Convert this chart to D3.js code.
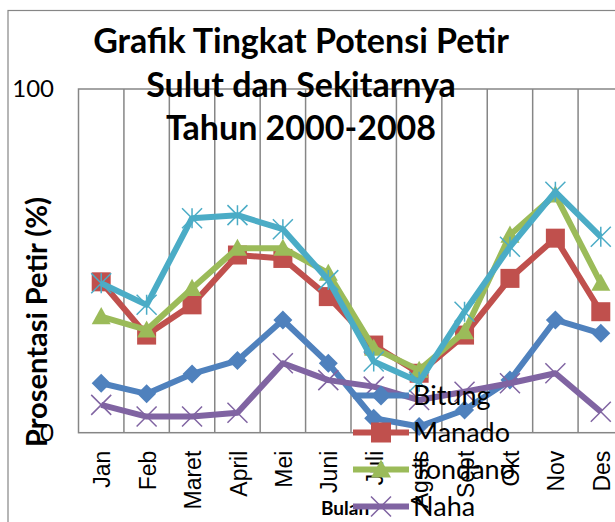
<!DOCTYPE html>
<html>
<head>
<meta charset="utf-8">
<script src="https://cdn.jsdelivr.net/npm/d3@7"></script>
<style>
  html, body { margin: 0; padding: 0; background: #fff; overflow: hidden; }
  svg { display: block; font-family: Lato, "Open Sans", sans-serif; }
</style>
</head>
<body>
<svg id="chart" width="615" height="522"></svg>
<script>
// Grafik Tingkat Potensi Petir — line chart with markers, Excel-style
const months = ['Jan', 'Feb', 'Maret', 'April', 'Mei', 'Juni', 'Juli', 'Agsts', 'Sept', 'Okt', 'Nov', 'Des'];
const bitung  = [14.4, 11.3, 17.1, 21.0, 32.8, 20.2, 4.2, 1.8, 6.6, 15.3, 32.8, 28.9];
const manado  = [43.9, 28.4, 37.2, 51.7, 50.7, 39.6, 25.5, 17.3, 28.4, 44.9, 56.6, 35.2];
const tondano = [33.8, 29.9, 42.0, 53.7, 53.7, 46.4, 24.6, 18.2, 29.4, 57.5, 69.2, 43.5];
const naha    = [8.1, 4.7, 4.7, 5.8, 20.2, 15.3, 13.4, 9.5, 11.9, 14.4, 17.3, 6.1];
const seri5   = [43.5, 37.2, 62.4, 63.3, 59.2, 44.4, 20.7, 14.8, 35.2, 54.1, 70.1, 57.0];
const yTicks  = [0, 100];

const series = [
    { name: 'Bitung',  values: bitung,  color: '#4F81BD', marker: 'diamond' },
    { name: 'Manado',  values: manado,  color: '#C0504D', marker: 'square' },
    { name: 'Tondano', values: tondano, color: '#9BBB59', marker: 'triangle' },
    { name: 'Naha',    values: naha,    color: '#8064A2', marker: 'x' },
    { name: 'Seri 5',  values: seri5,   color: '#4BACC6', marker: 'star' }
];

const PLOT = { left: 78.5, top: 89, right: 623.5, bottom: 432.7 };
const svg = d3.select('#chart');

// outer chart border
svg.append('rect')
    .attr('x', 8).attr('y', 10.5).attr('width', 700).attr('height', 600)
    .attr('fill', '#fff').attr('stroke', '#868686').attr('stroke-width', 1.2);

const x = d3.scaleBand().domain(months).range([PLOT.left, PLOT.right]);
const y = d3.scaleLinear().domain([0, 100]).range([PLOT.bottom, PLOT.top]);
const cx = d => x(d) + x.bandwidth() / 2;

// plot area border + vertical gridlines between categories
svg.append('rect')
    .attr('x', PLOT.left).attr('y', y(100))
    .attr('width', PLOT.right - PLOT.left).attr('height', y(0) - y(100))
    .attr('fill', 'none').attr('stroke', '#868686').attr('stroke-width', 1.5);

svg.append('g').selectAll('line')
    .data(months.slice(1))
    .join('line')
    .attr('x1', d => x(d)).attr('x2', d => x(d))
    .attr('y1', y(100)).attr('y2', y(0))
    .attr('stroke', '#868686').attr('stroke-width', 1.5);

// y tick labels
svg.append('g').selectAll('text')
    .data(yTicks)
    .join('text')
    .attr('x', 54).attr('y', d => y(d))
    .attr('dy', '0.35em')
    .attr('text-anchor', 'end')
    .attr('font-size', 24)
    .text(d => d);

// x tick labels (rotated)
svg.append('g').selectAll('text')
    .data(months)
    .join('text')
    .attr('transform', d => `translate(${cx(d) + 1},${y(0) + 18}) rotate(-90)`)
    .attr('dy', '0.35em')
    .attr('text-anchor', 'end')
    .attr('font-family', '"Liberation Sans", Arial, sans-serif')
    .attr('font-size', 23)
    .text(d => d);

// axis titles
svg.append('text')
    .attr('transform', 'translate(47,322) rotate(-90)')
    .attr('text-anchor', 'middle')
    .attr('font-size', 29).attr('font-weight', 'bold')
    .text('Prosentasi Petir (%)');

svg.append('text')
    .attr('x', 321).attr('y', 515)
    .attr('font-size', 19).attr('font-weight', 'bold')
    .text('Bulan');

// markers
function drawMarker(g, type, color, px, py, s) {
    const h = s / 2;
    if (type === 'diamond') {
        g.append('path').attr('d', `M${px},${py - h}L${px + h},${py}L${px},${py + h}L${px - h},${py}Z`).attr('fill', color);
    } else if (type === 'square') {
        g.append('rect').attr('x', px - h).attr('y', py - h).attr('width', s).attr('height', s).attr('fill', color);
    } else if (type === 'triangle') {
        g.append('path').attr('d', `M${px},${py - h}L${px + h},${py + h * 0.8}L${px - h},${py + h * 0.8}Z`).attr('fill', color);
    } else if (type === 'x') {
        g.append('path').attr('d', `M${px - h},${py - h}L${px + h},${py + h}M${px - h},${py + h}L${px + h},${py - h}`)
            .attr('stroke', color).attr('stroke-width', 1.5);
    } else if (type === 'star') {
        g.append('path').attr('d', `M${px - h},${py - h}L${px + h},${py + h}M${px - h},${py + h}L${px + h},${py - h}M${px},${py - h}L${px},${py + h}`)
            .attr('stroke', color).attr('stroke-width', 1.5);
    }
}

const line = d3.line()
    .x((d, i) => cx(months[i]))
    .y(d => y(d));

series.forEach(s => {
    const g = svg.append('g');
    g.append('path')
        .datum(s.values)
        .attr('d', line)
        .attr('fill', 'none')
        .attr('stroke', s.color)
        .attr('stroke-width', 6)
        .attr('stroke-linejoin', 'round');
    s.values.forEach((v, i) => drawMarker(g, s.marker, s.color, cx(months[i]), y(v), s.marker === 'x' || s.marker === 'star' ? 20 : 19));
});

// legend (overlaps plot, as in the original)
const legend = svg.append('g');
series.forEach((s, i) => {
    const ly = 395.5 + i * 37;
    const g = legend.append('g');
    g.append('line')
        .attr('x1', 353).attr('x2', 409).attr('y1', ly).attr('y2', ly)
        .attr('stroke', s.color).attr('stroke-width', 6);
    drawMarker(g, s.marker, s.color, 381, ly, 20);
    g.append('text')
        .attr('x', 413).attr('y', ly)
        .attr('dy', '0.35em')
        .attr('font-size', 27)
        .text(s.name);
});

// title
const title = ['Grafik Tingkat Potensi Petir', 'Sulut dan Sekitarnya', 'Tahun 2000-2008'];
svg.append('g').selectAll('text')
    .data(title)
    .join('text')
    .attr('x', 301).attr('y', (d, i) => 53 + i * 43.5)
    .attr('text-anchor', 'middle')
    .attr('font-size', 34).attr('font-weight', 'bold')
    .text(d => d);
</script>
</body>
</html>
